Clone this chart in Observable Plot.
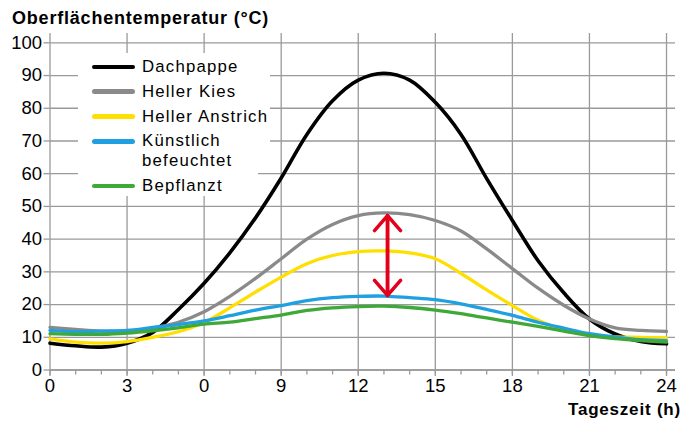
<!DOCTYPE html>
<html><head><meta charset="utf-8">
<script src="https://cdn.jsdelivr.net/npm/d3@7"></script>
<script src="https://cdn.jsdelivr.net/npm/@observablehq/plot@0.6"></script>
<style>
body{margin:0;background:#fff;}
#wrap{position:relative;width:694px;height:421px;font-family:"Liberation Sans",Arial,sans-serif;color:#000;overflow:hidden;background:#fff}
#chart{position:absolute;left:0;top:0}
.title{position:absolute;left:12px;top:8px;font-weight:bold;font-size:18px;line-height:20px;letter-spacing:0.8px;white-space:nowrap}
.xlabel{position:absolute;right:13px;top:400px;font-weight:bold;font-size:17px;line-height:20px;letter-spacing:0.8px;white-space:nowrap}
.legbg{position:absolute;background:#fff}
.legend{position:absolute;left:78px;top:57px;padding-left:14px;font-size:16.8px;letter-spacing:1.2px}
.row{display:flex;align-items:flex-start;margin-bottom:5px;line-height:19.8px}
.sw{width:43px;height:4.5px;border-radius:2.5px;margin-top:7.7px;margin-right:7px;flex:none}
</style></head>
<body>
<div id="wrap">
  <div id="chart"></div>
  <div class="legbg" style="left:78px;top:53px;width:192px;height:111px"></div>
  <div class="legbg" style="left:78px;top:163px;width:180px;height:33px"></div>
  <div class="legend" id="legend"></div>
  <div class="title" id="title"></div>
  <div class="xlabel" id="xlabel"></div>
</div>
<script>
// ---- data ----
const titleText = "Oberflächentemperatur (°C)";
const xLabelText = "Tageszeit (h)";
const hours = [0,1,2,3,4,5,6,7,8,9,10,11,12,13,14,15,16,17,18,19,20,21,22,23,24];
const seriesNames = ["Dachpappe","Heller Kies","Heller Anstrich","Künstlich befeuchtet","Bepflanzt"];
const legendLabels = ["Dachpappe","Heller Kies","Heller Anstrich","Künstlich<br>befeuchtet","Bepflanzt"];
const seriesColors = ["#000000","#8a8a8a","#ffdf00","#1fa0e0","#3ea838"];
const dachpappe    = [8.2,7.4,7.0,8.2,11.5,18.5,26.5,35.8,46.5,58.7,72,82.3,88.6,90.7,88.6,81.8,72,58.5,45.7,33.4,23.6,15.6,11,8.7,8.0];
const hellerKies   = [13.0,12.4,11.9,11.9,12.8,14.6,17.8,22.5,28,34,40,44.5,47.2,48,47.5,45.7,42.5,37,31,25,19.8,15.6,12.9,12.1,11.8];
const hellerAnstr  = [9.5,8.5,8.2,8.7,10,11.7,14.5,19,23.8,28.4,32.5,35,36.2,36.4,35.8,34,29.5,24.5,19.7,15.2,12.3,10.7,10.1,10.0,9.8];
const befeuchtet   = [12.1,11.7,11.9,12.1,13.0,13.9,15,16.6,18.3,19.7,21.2,22.1,22.5,22.6,22.1,21.5,20.2,18.5,16.7,14.6,12.8,11.1,10.1,9.3,9.0];
const bepflanzt    = [11.1,10.9,10.9,11.3,12.0,12.9,14,14.6,15.7,16.8,18.2,19,19.4,19.5,19.1,18.3,17.2,15.9,14.6,13.3,11.9,10.5,9.6,9.0,8.5];
const seriesValues = [dachpappe, hellerKies, hellerAnstr, befeuchtet, bepflanzt];
const xTicks = [0,3,6,9,12,15,18,21,24];
const xTickLabels = ["0","3","0","9","12","15","18","21","24"];
const minorTicks = [0,1,2,3,4,5,6,7,8,9,10,11,12,13,14,15,16,17,18,19,20,21,22,23,24];
const yTicks = [0,10,20,30,40,50,60,70,80,90,100];
const yTickLabels = ["0","10","20","30","40","50","60","70","80","90","100"];
// difference arrow (Heller Kies peak ↔ Künstlich befeuchtet)
const arrowHour = [13.14];
const arrowLow = [22.8];
const arrowHigh = [47.2];

// ---- build ----
document.getElementById("title").textContent = titleText;
document.getElementById("xlabel").textContent = xLabelText;
const leg = document.getElementById("legend");
leg.innerHTML = legendLabels.map((l,i) =>
  `<div class="row"><div class="sw" style="background:${seriesColors[i]}"></div><div>${l}</div></div>`).join("");

const gridColor = "#9a9a9a";
const lineMarks = seriesNames.map((name, i) => {
  const data = hours.map((h, j) => ({h, v: seriesValues[i][j], s: name}));
  return Plot.line(data, {x: "h", y: "v", stroke: seriesColors[i], strokeWidth: i === 0 ? 3.6 : 3.3, curve: "catmull-rom"});
});
const arrows = [
  {x: arrowHour[0], a: arrowLow[0], b: arrowHigh[0]},
  {x: arrowHour[0], a: arrowHigh[0], b: arrowLow[0]}
];

const chart = Plot.plot({
  width: 694, height: 421,
  marginTop: 33, marginBottom: 51.5, marginLeft: 49.5, marginRight: 19,
  style: {background: "transparent", fontFamily: "Liberation Sans, Arial, sans-serif", fontSize: "18.5px", color: "#000", overflow: "visible"},
  x: {domain: [0, 24.35]},
  y: {domain: [0, 102.85]},
  marks: [
    Plot.gridY(yTicks, {stroke: gridColor, strokeOpacity: 1, strokeWidth: 1.3}),
    Plot.gridX(xTicks, {stroke: gridColor, strokeOpacity: 1, strokeWidth: 1.3}),
    Plot.axisY(yTicks, {tickSize: 6, tickPadding: 2, stroke: gridColor, strokeWidth: 1.3, fill: "#000", fontSize: 18.5, label: null, tickFormat: d => yTickLabels[yTicks.indexOf(d)]}),
    Plot.axisX(minorTicks, {tickSize: 5, stroke: gridColor, strokeWidth: 1.3, label: null, tickFormat: () => ""}),
    Plot.axisX(xTicks, {tickSize: 6.5, tickPadding: 2, stroke: gridColor, strokeWidth: 1.3, fill: "#000", fontSize: 18.5, label: null, tickFormat: d => xTickLabels[xTicks.indexOf(d)]}),
    Plot.ruleY([0], {stroke: gridColor, strokeWidth: 1.3}),
    ...lineMarks,
    Plot.arrow(arrows, {x1: "x", x2: "x", y1: "a", y2: "b", stroke: "#e2001a", strokeWidth: 3.5, headLength: 8.5, headAngle: 82})
  ]
});
document.getElementById("chart").appendChild(chart);
</script>
</body></html>
